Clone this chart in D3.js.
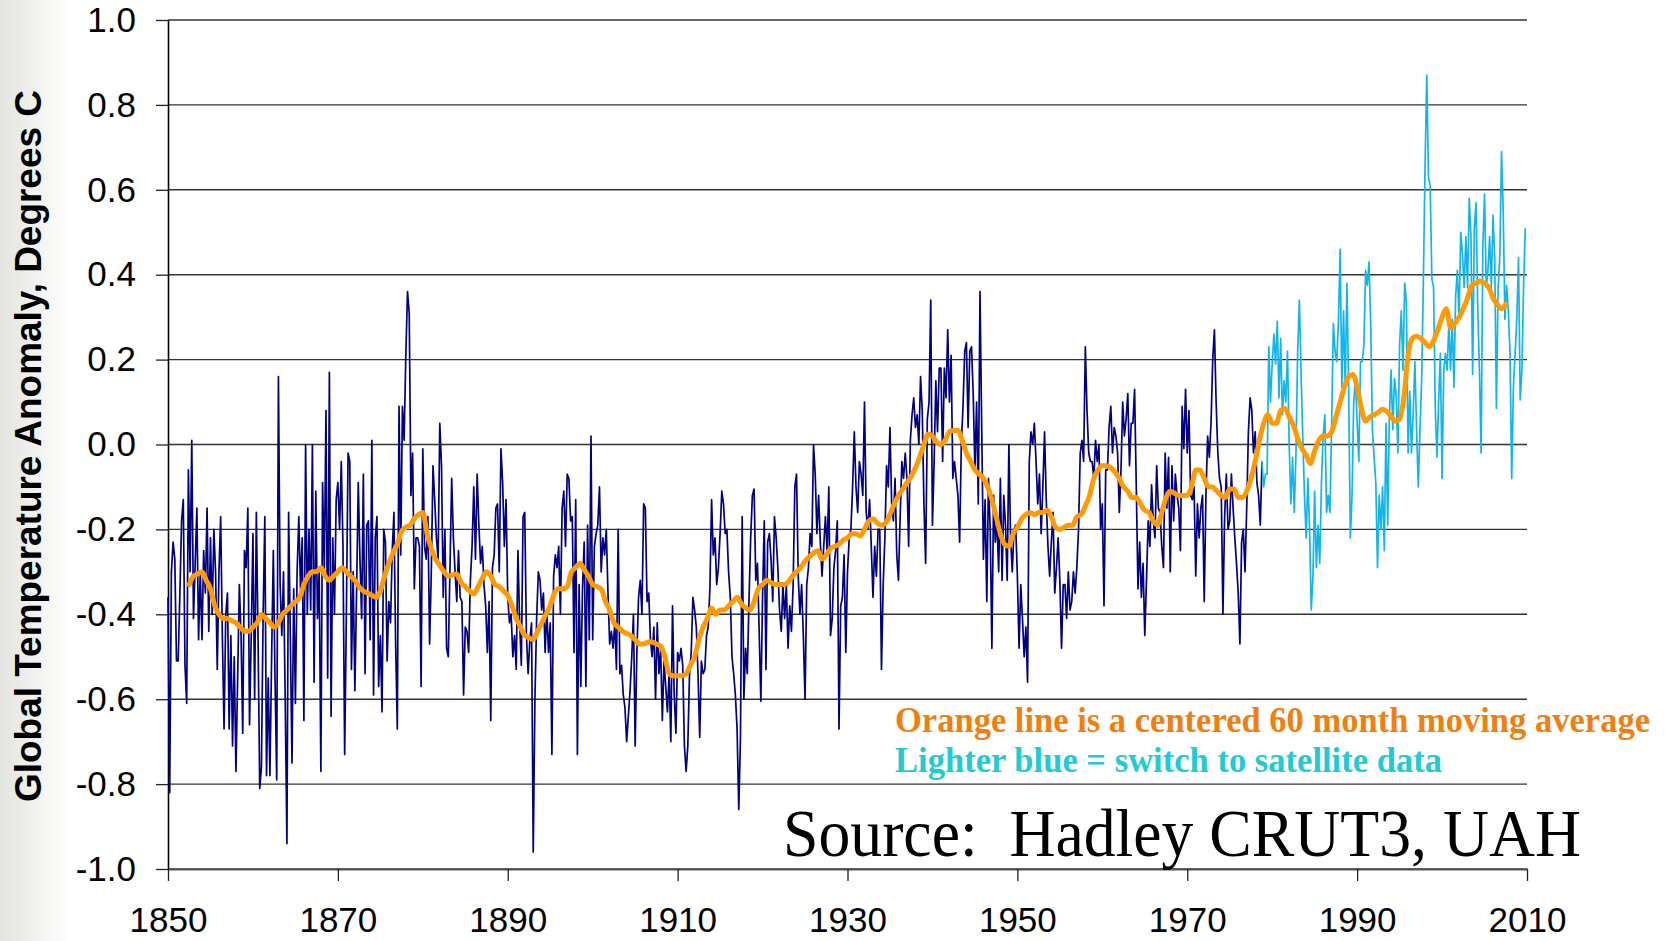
<!DOCTYPE html>
<html>
<head>
<meta charset="utf-8">
<script src="https://cdn.jsdelivr.net/npm/d3@7"></script>
<style>
html, body { margin: 0; padding: 0; background: #fff; }
svg { display: block; }
</style>
</head>
<body>
<svg id="chart" width="1666" height="941"></svg>
<script>

//
// Data
//
var start_year = 1850;
var end_year = 2010;
var step = 0.2;       // spacing of the values below, in years
var ma_step = 0.5;    // spacing of the moving average values

// Hadley CRUT3, one row per year
var hadley_1850s = [
    -0.36, -0.82, -0.30, -0.23, -0.27,
    -0.51, -0.51, -0.35, -0.18, -0.13,
    -0.52, -0.61, -0.06, -0.30, 0.01,
    -0.41, -0.28, -0.15, -0.46, -0.30,
    -0.46, -0.25, -0.35, -0.15, -0.44,
    -0.22, -0.40, -0.20, -0.30, -0.53,
    -0.30, -0.17, -0.45, -0.67, -0.40,
    -0.35, -0.67, -0.45, -0.71, -0.50,
    -0.77, -0.55, -0.33, -0.45, -0.68,
    -0.25, -0.29, -0.15, -0.66, -0.45
];
var hadley_1860s = [
    -0.21, -0.60, -0.16, -0.45, -0.81,
    -0.76, -0.40, -0.17, -0.78, -0.55,
    -0.78, -0.50, -0.25, -0.55, -0.79,
    0.16, -0.33, -0.45, -0.30, -0.60,
    -0.94, -0.16, -0.45, -0.75, -0.34,
    -0.61, -0.30, -0.17, -0.34, -0.22,
    -0.65, 0.00, -0.40, -0.20, -0.39,
    0.00, -0.56, -0.11, -0.41, -0.30,
    -0.77, -0.09, -0.30, 0.08, -0.55,
    0.17, -0.64, -0.22, -0.40, -0.13
];
var hadley_1870s = [
    -0.09, -0.20, -0.04, -0.24, -0.73,
    -0.40, -0.02, -0.04, -0.53, -0.30,
    -0.58, -0.35, -0.09, -0.27, -0.41,
    -0.07, -0.54, -0.19, -0.18, -0.46,
    0.01, -0.59, -0.22, -0.17, -0.57,
    -0.45, -0.63, -0.20, -0.23, -0.51,
    -0.37, -0.42, -0.25, -0.16, -0.47,
    -0.67, 0.09, -0.26, 0.09, 0.01,
    0.21, 0.36, 0.31, -0.12, -0.02,
    -0.34, -0.22, -0.22, -0.24, -0.57
];
var hadley_1880s = [
    -0.01, -0.24, -0.27, -0.17, -0.47,
    -0.30, -0.05, -0.13, -0.22, -0.27,
    0.05, -0.05, -0.36, -0.20, -0.48,
    -0.50, -0.29, -0.08, -0.22, -0.30,
    -0.37, -0.25, -0.36, -0.37, -0.59,
    -0.43, -0.44, -0.49, -0.32, -0.24,
    -0.10, -0.27, -0.07, -0.19, -0.28,
    -0.24, -0.33, -0.38, -0.49, -0.37,
    -0.65, -0.29, -0.26, -0.15, -0.14,
    -0.30, -0.01, -0.09, -0.24, -0.13
];
var hadley_1890s = [
    -0.36, -0.42, -0.40, -0.50, -0.45,
    -0.53, -0.25, -0.42, -0.52, -0.17,
    -0.16, -0.45, -0.54, -0.46, -0.42,
    -0.96, -0.60, -0.41, -0.30, -0.32,
    -0.39, -0.35, -0.49, -0.39, -0.49,
    -0.42, -0.73, -0.31, -0.26, -0.29,
    -0.24, -0.40, -0.15, -0.11, -0.24,
    -0.07, -0.08, -0.18, -0.17, -0.49,
    -0.13, -0.73, -0.33, -0.57, -0.34,
    -0.23, -0.57, -0.19, -0.46, 0.02
];
var hadley_1900s = [
    -0.46, -0.24, -0.21, -0.19, -0.10,
    -0.30, -0.22, -0.26, -0.20, -0.35,
    -0.47, -0.44, -0.48, -0.42, -0.53,
    -0.20, -0.54, -0.52, -0.59, -0.62,
    -0.70, -0.64, -0.58, -0.50, -0.40,
    -0.71, -0.49, -0.36, -0.32, -0.40,
    -0.14, -0.15, -0.37, -0.35, -0.46,
    -0.50, -0.43, -0.60, -0.42, -0.54,
    -0.48, -0.65, -0.51, -0.57, -0.63,
    -0.54, -0.70, -0.38, -0.59, -0.68
];
var hadley_1910s = [
    -0.49, -0.51, -0.48, -0.52, -0.71,
    -0.77, -0.71, -0.54, -0.49, -0.36,
    -0.39, -0.43, -0.54, -0.69, -0.51,
    -0.54, -0.53, -0.45, -0.43, -0.34,
    -0.13, -0.26, -0.22, -0.33, -0.29,
    -0.21, -0.11, -0.14, -0.21, -0.20,
    -0.30, -0.36, -0.50, -0.54, -0.59,
    -0.67, -0.86, -0.69, -0.17, -0.60,
    -0.48, -0.54, -0.37, -0.22, -0.12,
    -0.105, -0.32, -0.28, -0.44, -0.605
];
var hadley_1920s = [
    -0.36, -0.18, -0.53, -0.23, -0.21,
    -0.27, -0.37, -0.17, -0.22, -0.29,
    -0.39, -0.44, -0.33, -0.41, -0.33,
    -0.48, -0.38, -0.44, -0.33, -0.10,
    -0.07, -0.31, -0.40, -0.33, -0.45,
    -0.60, -0.33, -0.29, -0.21, -0.24,
    0.00, -0.07, -0.21, -0.12, -0.23,
    -0.31, -0.24, -0.17, -0.25, -0.10,
    -0.45, -0.41, -0.29, -0.25, -0.18,
    -0.67, -0.38, -0.36, -0.26, -0.49
];
var hadley_1930s = [
    -0.30, -0.22, -0.20, -0.10, 0.03,
    -0.10, -0.16, -0.04, -0.07, -0.12,
    0.10, -0.16, -0.20, -0.13, -0.24,
    -0.36, -0.24, -0.31, -0.20, -0.20,
    -0.53, -0.33, -0.22, -0.05, -0.10,
    0.04, -0.14, -0.18, -0.08, -0.26,
    -0.32, -0.17, -0.04, -0.08, -0.02,
    -0.08, -0.24, 0.01, 0.07, 0.11,
    0.04, 0.07, 0.00, 0.16, 0.08,
    -0.14, -0.28, 0.06, 0.10, 0.34
];
var hadley_1940s = [
    -0.19, -0.04, 0.15, 0.03, 0.18,
    0.18, -0.04, 0.18, 0.11, 0.27,
    0.10, 0.21, -0.08, -0.04, -0.08,
    -0.12, -0.23, 0.00, 0.09, 0.22,
    0.24, 0.04, 0.22, 0.23, 0.12,
    -0.06, 0.10, -0.14, 0.36, 0.04,
    -0.27, -0.13, -0.37, -0.08, -0.20,
    -0.48, -0.12, -0.23, -0.18, -0.30,
    -0.08, -0.32, -0.12, -0.19, -0.32,
    0.00, -0.22, -0.30, -0.20, -0.19
];
var hadley_1950s = [
    -0.31, -0.48, -0.33, -0.41, -0.50,
    -0.43, -0.56, -0.04, 0.03, 0.00,
    0.05, -0.04, -0.14, -0.07, -0.21,
    -0.10, 0.03, -0.13, -0.24, -0.31,
    -0.23, -0.16, -0.35, -0.29, -0.22,
    -0.32, -0.48, -0.33, -0.33, -0.41,
    -0.30, -0.39, -0.37, -0.30, -0.35,
    -0.29, -0.20, -0.02, 0.01, -0.04,
    0.23, 0.08, -0.02, -0.04, -0.04,
    -0.08, 0.01, -0.04, 0.00, -0.20
];
var hadley_1960s = [
    -0.14, -0.38, -0.06, -0.06, 0.04,
    0.09, -0.02, 0.04, 0.02, -0.02,
    -0.16, -0.06, 0.10, 0.02, 0.06,
    0.12, -0.05, 0.05, 0.05, 0.13,
    -0.10, -0.34, -0.23, -0.36, -0.28,
    -0.45, -0.32, -0.18, -0.24, -0.095,
    -0.18, -0.22, -0.05, -0.15, -0.16,
    -0.24, -0.29, -0.02, -0.15, -0.03,
    -0.30, -0.05, -0.18, -0.07, -0.12,
    -0.15, -0.25, 0.09, -0.01, 0.13
];
var hadley_1970s = [
    -0.02, 0.08, -0.12, -0.13, -0.10,
    -0.31, -0.14, -0.22, -0.15, -0.12,
    -0.37, -0.12, 0.02, -0.03, 0.05,
    0.20, 0.27, 0.10, -0.02, -0.08,
    -0.10, -0.40, -0.17, -0.07, -0.20,
    -0.18, -0.07, -0.15, -0.22, -0.28,
    -0.35, -0.47, -0.23, -0.20, -0.30,
    -0.15, 0.03, 0.11, 0.08, -0.02,
    0.03, -0.09, -0.12, -0.19, -0.04
];

// UAH satellite data from 1979
var uah_start = 1979;
var uah_1979_1989 = [
    -0.10, -0.07, -0.07, 0.23, 0.10,
    0.19, 0.26, 0.19, 0.29, 0.11,
    0.25, 0.07, 0.15, 0.10, 0.22,
    0.00, -0.14, -0.03, -0.16, -0.02,
    0.22, 0.34, 0.17, 0.02, -0.12,
    -0.22, -0.08, -0.20, -0.39, -0.31,
    -0.11, -0.29, -0.19, -0.28, -0.09,
    0.02, 0.07, -0.16, -0.12, -0.16,
    0.05, 0.285, 0.22, 0.195, 0.29,
    0.46, 0.135, 0.315, 0.135, 0.38,
    0.135, -0.22, -0.12, 0.10, 0.155
];
var uah_1990s = [
    0.055, -0.04, 0.195, 0.195, 0.235,
    0.41, 0.375, 0.43, 0.285, 0.035,
    -0.03, -0.09, -0.29, -0.12, -0.20,
    -0.10, -0.25, 0.05, -0.19, 0.07,
    0.175, 0.035, 0.155, 0.115, -0.02,
    0.235, 0.315, 0.175, 0.38, 0.335,
    -0.02, 0.125, -0.02, 0.075, 0.195,
    0.035, -0.10, 0.035, 0.155, 0.385,
    0.66, 0.87, 0.63, 0.61, 0.39,
    0.37, 0.085, -0.03, 0.105, 0.215
];
var uah_2000s = [
    -0.08, 0.175, 0.215, 0.175, 0.285,
    0.175, 0.295, 0.135, 0.35, 0.41,
    0.295, 0.50, 0.45, 0.37, 0.49,
    0.37, 0.58, 0.49, 0.165, 0.51,
    0.57, 0.325, 0.175, -0.02, 0.47,
    0.59, 0.37, 0.41, 0.49, 0.37,
    0.54, 0.44, 0.085, 0.37, 0.44,
    0.69, 0.55, 0.295, 0.375, 0.315,
    0.215, -0.08, 0.135, 0.215, 0.295,
    0.44, 0.105, 0.175, 0.375, 0.51
];

// centered 60 month moving average, half years from mid 1852
var ma_start = 1852.5;
var ma_1852_1899 = [
    -0.33, -0.31, -0.305, -0.30, -0.32, -0.34, -0.38, -0.40, -0.41, -0.41,
    -0.415, -0.42, -0.43, -0.44, -0.44, -0.43, -0.42, -0.40, -0.41, -0.42,
    -0.43, -0.42, -0.40, -0.39, -0.38, -0.37, -0.36, -0.33, -0.31, -0.30,
    -0.30, -0.29, -0.31, -0.32, -0.31, -0.30, -0.29, -0.30, -0.31, -0.32,
    -0.335, -0.345, -0.35, -0.355, -0.36, -0.345, -0.31, -0.28, -0.255, -0.235,
    -0.205, -0.195, -0.19, -0.175, -0.165, -0.16, -0.21, -0.245, -0.27, -0.285,
    -0.30, -0.31, -0.307, -0.305, -0.325, -0.335, -0.345, -0.352, -0.335, -0.315,
    -0.30, -0.31, -0.33, -0.335, -0.345, -0.355, -0.38, -0.41, -0.43, -0.45,
    -0.455, -0.46, -0.44, -0.42, -0.40, -0.38, -0.35, -0.34, -0.34, -0.335,
    -0.30, -0.29, -0.28, -0.295, -0.31
];
var ma_1900_1949 = [
    -0.33, -0.335, -0.34, -0.37, -0.39, -0.42, -0.43, -0.44, -0.445, -0.45,
    -0.46, -0.47, -0.47, -0.465, -0.465, -0.47, -0.475, -0.50, -0.54, -0.545,
    -0.545, -0.545, -0.54, -0.52, -0.50, -0.46, -0.43, -0.41, -0.385, -0.40,
    -0.39, -0.39, -0.38, -0.37, -0.36, -0.375, -0.385, -0.39, -0.37, -0.34,
    -0.33, -0.32, -0.325, -0.33, -0.33, -0.33, -0.325, -0.31, -0.30, -0.29,
    -0.275, -0.265, -0.255, -0.25, -0.27, -0.26, -0.245, -0.24, -0.235, -0.225,
    -0.22, -0.21, -0.21, -0.215, -0.20, -0.18, -0.175, -0.185, -0.19, -0.185,
    -0.165, -0.14, -0.12, -0.105, -0.09, -0.075, -0.055, -0.03, 0.00, 0.025,
    0.02, 0.005, 0.00, 0.01, 0.03, 0.033, 0.033, 0.01, -0.02, -0.04,
    -0.06, -0.07, -0.08, -0.10, -0.13, -0.17, -0.21, -0.235, -0.24, -0.21
];
var ma_1950_2007 = [
    -0.195, -0.175, -0.165, -0.16, -0.165, -0.16, -0.16, -0.155, -0.17, -0.195,
    -0.20, -0.195, -0.19, -0.19, -0.17, -0.165, -0.145, -0.12, -0.08, -0.06,
    -0.05, -0.05, -0.055, -0.065, -0.08, -0.10, -0.11, -0.125, -0.125, -0.14,
    -0.155, -0.16, -0.18, -0.19, -0.16, -0.125, -0.11, -0.115, -0.12, -0.12,
    -0.12, -0.10, -0.06, -0.06, -0.08, -0.10, -0.10, -0.11, -0.12, -0.125,
    -0.105, -0.105, -0.125, -0.125, -0.11, -0.08, -0.04, 0.01, 0.05, 0.07,
    0.05, 0.05, 0.08, 0.085, 0.065, 0.045, 0.015, -0.01, -0.025, -0.045,
    -0.015, 0.01, 0.02, 0.02, 0.03, 0.065, 0.10, 0.135, 0.16, 0.165,
    0.135, 0.085, 0.055, 0.065, 0.07, 0.076, 0.083, 0.078, 0.066, 0.055,
    0.06, 0.11, 0.21, 0.25, 0.255, 0.25, 0.24, 0.23, 0.245, 0.27,
    0.30, 0.32, 0.275, 0.285, 0.30, 0.32, 0.345, 0.375, 0.38, 0.385,
    0.38, 0.37, 0.345, 0.33, 0.32, 0.33
];

var y_ticks = [1.0, 0.8, 0.6, 0.4, 0.2, 0.0, -0.2, -0.4, -0.6, -0.8, -1.0];
var x_ticks = [1850, 1870, 1890, 1910, 1930, 1950, 1970, 1990, 2010];

var y_title = "Global Temperature Anomaly, Degrees C";
var note_ma = "Orange line is a centered 60 month moving average";
var note_sat = "Lighter blue = switch to satellite data";
var source_text = "Source:  Hadley CRUT3, UAH";

var navy = "#000080";
var sky = "#12b4ea";
var orange = "#ff9a05";

function to_points(values, first_year, every) {
    return values.map(function (v, i) { return {year: first_year + i * every, value: v}; });
}

var hadley = to_points([].concat(
    hadley_1850s, hadley_1860s, hadley_1870s, hadley_1880s, hadley_1890s,
    hadley_1900s, hadley_1910s, hadley_1920s, hadley_1930s, hadley_1940s,
    hadley_1950s, hadley_1960s, hadley_1970s), start_year, step);
var uah = to_points([].concat(uah_1979_1989, uah_1990s, uah_2000s), uah_start, step);
var moving = to_points([].concat(ma_1852_1899, ma_1900_1949, ma_1950_2007), ma_start, ma_step);

// satellite part starts where the land/sea record stops
uah.unshift(hadley[hadley.length - 1]);

//
// Chart
//
var svg = d3.select("#chart");

var x = d3.scaleLinear().domain([start_year, end_year]).range([168, 1527]);
var y = d3.scaleLinear().domain([-1, 1]).range([869, 20]);

// faint shade on the far left
var grad = svg.append("defs").append("linearGradient")
    .attr("id", "shade").attr("x1", "0").attr("x2", "1").attr("y1", "0").attr("y2", "0");
grad.append("stop").attr("offset", "0").attr("stop-color", "#e3e3df");
grad.append("stop").attr("offset", "1").attr("stop-color", "#ffffff");
svg.append("rect").attr("x", 0).attr("y", 0).attr("width", 70).attr("height", 941)
    .attr("fill", "url(#shade)");

// grid lines
svg.append("g")
    .selectAll("line")
    .data(y_ticks)
    .enter()
    .append("line")
    .attr("x1", x(start_year))
    .attr("x2", x(end_year))
    .attr("y1", function (d) { return y(d); })
    .attr("y2", function (d) { return y(d); })
    .attr("stroke", "#333")
    .attr("stroke-width", 1.4);

// y axis
var yAxis = svg.append("g")
    .attr("transform", "translate(" + x(start_year) + ",0)")
    .call(d3.axisLeft(y)
        .tickValues(y_ticks)
        .tickSize(12)
        .tickSizeOuter(0)
        .tickPadding(20)
        .tickFormat(function (d) { return d.toFixed(1); }));

// x axis
var xAxis = svg.append("g")
    .attr("transform", "translate(0," + y(-1) + ")")
    .call(d3.axisBottom(x)
        .tickValues(x_ticks)
        .tickSize(12)
        .tickSizeOuter(0)
        .tickPadding(26)
        .tickFormat(function (d) { return d; }));

[yAxis, xAxis].forEach(function (g) {
    g.selectAll("text")
        .attr("font-family", "Arial, 'Liberation Sans', sans-serif")
        .attr("font-size", 35)
        .attr("fill", "#000");
    g.selectAll(".tick line").attr("stroke", "#222").attr("stroke-width", 1.3);
});
yAxis.select(".domain").attr("stroke", "#000").attr("stroke-width", 1.6);
xAxis.select(".domain").attr("stroke", "#555").attr("stroke-width", 2);

// y axis title
svg.append("text")
    .attr("transform", "translate(41,446) rotate(-90)")
    .attr("text-anchor", "middle")
    .attr("font-family", "Arial, 'Liberation Sans', sans-serif")
    .attr("font-weight", "bold")
    .attr("font-size", 36)
    .attr("textLength", 712)
    .attr("lengthAdjust", "spacingAndGlyphs")
    .text(y_title);

//
// Series
//
var line = d3.line()
    .x(function (d) { return x(d.year); })
    .y(function (d) { return y(d.value); });

svg.append("path")
    .datum(hadley)
    .attr("d", line)
    .attr("fill", "none")
    .attr("stroke", navy)
    .attr("stroke-width", 1.7)
    .attr("stroke-linejoin", "round");

svg.append("path")
    .datum(uah)
    .attr("d", line)
    .attr("fill", "none")
    .attr("stroke", sky)
    .attr("stroke-width", 1.7)
    .attr("stroke-linejoin", "round");

svg.append("path")
    .datum(moving)
    .attr("d", line.curve(d3.curveMonotoneX))
    .attr("fill", "none")
    .attr("stroke", orange)
    .attr("stroke-width", 5)
    .attr("stroke-linejoin", "round")
    .attr("stroke-linecap", "round");

//
// Notes
//
var serif = "'Times New Roman', 'Liberation Serif', serif";

svg.append("text")
    .attr("x", 895).attr("y", 732)
    .attr("font-family", serif).attr("font-weight", "bold").attr("font-size", 35)
    .attr("fill", "#f07f12")
    .attr("textLength", 755).attr("lengthAdjust", "spacingAndGlyphs")
    .text(note_ma);

svg.append("text")
    .attr("x", 895).attr("y", 772)
    .attr("font-family", serif).attr("font-weight", "bold").attr("font-size", 35)
    .attr("fill", "#23cad3")
    .attr("textLength", 547).attr("lengthAdjust", "spacingAndGlyphs")
    .text(note_sat);

svg.append("text")
    .attr("x", 783).attr("y", 856)
    .attr("font-family", serif).attr("font-size", 68)
    .attr("fill", "#000")
    .style("white-space", "pre")
    .attr("textLength", 798).attr("lengthAdjust", "spacingAndGlyphs")
    .text(source_text);

</script>
</body>
</html>
